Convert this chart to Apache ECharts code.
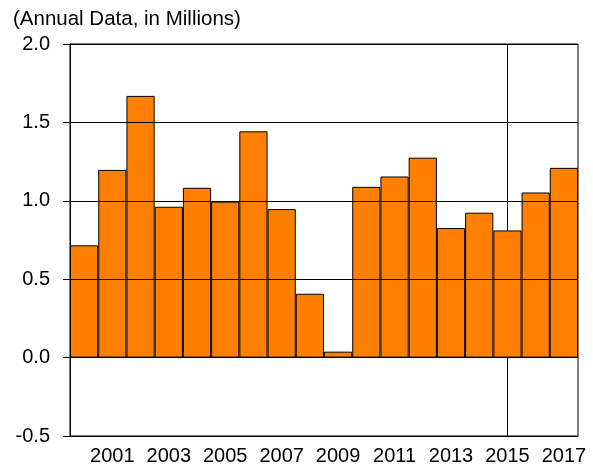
<!DOCTYPE html>
<html>
<head>
<meta charset="utf-8">
<script src="https://cdn.jsdelivr.net/npm/echarts/dist/echarts.min.js"></script>
<style>
  html, body { margin: 0; padding: 0; background: #fff; }
  #chart { width: 593px; height: 468px; }
</style>
</head>
<body>
<div id="chart"></div>
<script>
// annual values, millions
const years = ['2000', '2001', '2002', '2003', '2004', '2005', '2006', '2007', '2008',
  '2009', '2010', '2011', '2012', '2013', '2014', '2015', '2016', '2017']
const values = [0.716, 1.197, 1.669, 0.962, 1.083, 0.995, 1.443, 0.947, 0.407,
  0.038, 1.089, 1.155, 1.275, 0.826, 0.924, 0.811, 1.053, 1.21]
const markYear = '2015'

const font = 'Liberation Sans, Helvetica, Arial, sans-serif'

const chart = echarts.init(document.getElementById('chart'))

const option = {
  animation: false,
  title: {
    text: '(Annual Data, in Millions)',
    left: 13,
    top: 9,
    padding: 0,
    textStyle: { fontFamily: font, fontSize: 20.5, fontWeight: 'normal', color: '#000' }
  },
  grid: {
    left: 70,
    right: 15,
    top: 44,
    bottom: 32,
    show: true,
    borderColor: '#000',
    borderWidth: 1
  },
  xAxis: {
    type: 'category',
    data: years,
    boundaryGap: true,
    axisLine: { onZero: false, lineStyle: { color: '#000', width: 1 } },
    axisTick: { interval: 0, length: 6, lineStyle: { color: '#000' } },
    axisLabel: {
      interval: (idx) => idx % 2 === 1,
      margin: 10,
      color: '#000',
      fontFamily: font,
      fontSize: 20
    }
  },
  yAxis: {
    type: 'value',
    min: -0.5,
    max: 2.0,
    interval: 0.5,
    z: 5,
    axisLine: { show: true, lineStyle: { color: '#000', width: 1 } },
    axisTick: { show: true, length: 7, lineStyle: { color: '#000' } },
    axisLabel: {
      margin: 20,
      color: '#000',
      fontFamily: font,
      fontSize: 20,
      formatter: (v) => v.toFixed(1)
    },
    splitLine: { show: true, lineStyle: { color: '#000', width: 1 } }
  },
  series: [
    {
      type: 'bar',
      data: values,
      barCategoryGap: 0,
      itemStyle: { color: '#FF8000', borderColor: '#000', borderWidth: 1 },
      markLine: {
        z: 1,
        silent: true,
        symbol: 'none',
        label: { show: false },
        lineStyle: { color: '#000', type: 'solid', width: 1 },
        data: [{ xAxis: markYear }]
      }
    }
  ]
}

chart.setOption(option)
</script>
</body>
</html>
